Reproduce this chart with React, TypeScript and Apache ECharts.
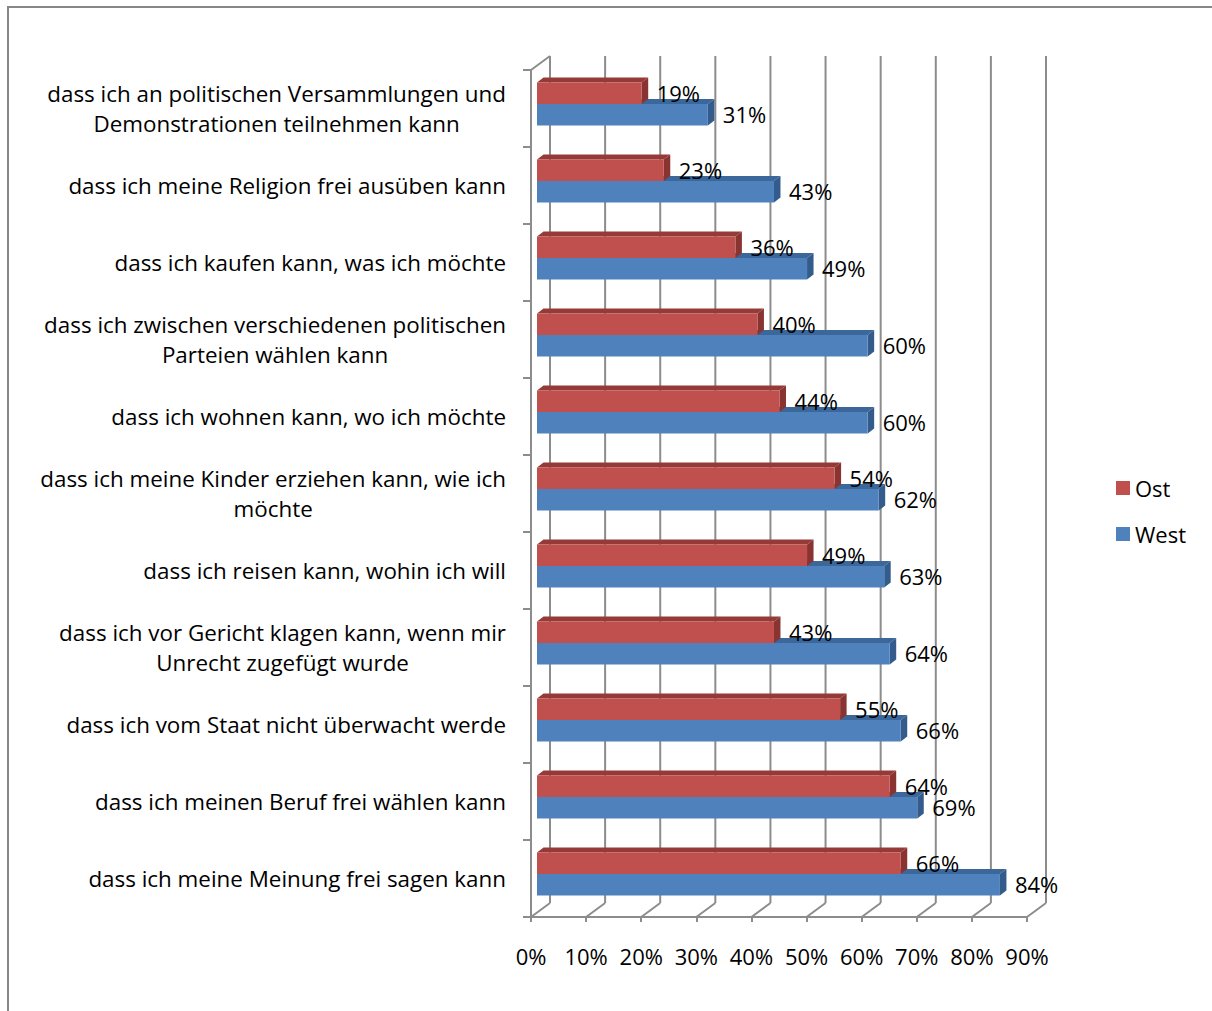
import React, { useEffect, useRef } from "react";
import * as echarts from "echarts";

const categories: string[] = [
  "dass ich an politischen Versammlungen und\nDemonstrationen teilnehmen kann",
  "dass ich meine Religion frei ausüben kann",
  "dass ich kaufen kann, was ich möchte",
  "dass ich zwischen verschiedenen politischen\nParteien wählen kann",
  "dass ich wohnen kann, wo ich möchte",
  "dass ich meine Kinder erziehen kann, wie ich\nmöchte",
  "dass ich reisen kann, wohin ich will",
  "dass ich vor Gericht klagen kann, wenn mir\nUnrecht zugefügt wurde",
  "dass ich vom Staat nicht überwacht werde",
  "dass ich meinen Beruf frei wählen kann",
  "dass ich meine Meinung frei sagen kann",
];

const ostValues: number[] = [19, 23, 36, 40, 44, 54, 49, 43, 55, 64, 66];
const westValues: number[] = [31, 43, 49, 60, 60, 62, 63, 64, 66, 69, 84];
const xTicks: number[] = [0, 10, 20, 30, 40, 50, 60, 70, 80, 90];

const FONT = "'Open Sans', sans-serif";
const GRID_COLOR = "#8c8c8c";
// 3D projection offsets (pixels)
const BACK_DX = 19;
const BACK_DY = -14;
const PLANE_DX = 6;
const PLANE_DY = -4.5;
const DEPTH_DX = 6.5;
const DEPTH_DY = -5;

const OST = { front: "#C0504D", top: "#953A37", side: "#8A3431" };
const WEST = { front: "#4F81BD", top: "#3B679B", side: "#335C8C" };

function barRenderer(isOst: boolean, colors: { front: string; top: string; side: string }) {
  return (params: any, api: any) => {
    const v = api.value(0);
    const cat = api.value(1);
    const p0 = api.coord([0, cat]);
    const p1 = api.coord([v, cat]);
    const band = api.size([0, 1])[1];
    const h = band * 0.28;
    const cy = p0[1] + PLANE_DY;
    const top = isOst ? cy - h : cy;
    const bottom = top + h;
    const x0 = p0[0] + PLANE_DX;
    const x1 = p1[0] + PLANE_DX;
    return {
      type: "group",
      children: [
        {
          type: "polygon",
          shape: { points: [[x0, top], [x0 + DEPTH_DX, top + DEPTH_DY], [x1 + DEPTH_DX, top + DEPTH_DY], [x1, top]] },
          style: { fill: colors.top },
        },
        {
          type: "polygon",
          shape: { points: [[x1, top], [x1 + DEPTH_DX, top + DEPTH_DY], [x1 + DEPTH_DX, bottom + DEPTH_DY], [x1, bottom]] },
          style: { fill: colors.side },
        },
        {
          type: "rect",
          shape: { x: x0, y: top, width: x1 - x0, height: h },
          style: { fill: colors.front },
        },
        {
          type: "text",
          x: x1 + 15,
          y: (top + bottom) / 2 - 0.5,
          style: {
            text: v + "%",
            fill: "#000",
            font: `22px ${FONT}`,
            align: "left",
            verticalAlign: "middle",
            textAlign: "left",
            textVerticalAlign: "middle",
          },
        },
      ],
    };
  };
}

function wallRenderer(params: any, api: any) {
  const v = api.value(0);
  const cs = params.coordSys;
  const x = api.coord([v, 0])[0];
  const top = cs.y;
  const bottom = cs.y + cs.height;
  const style = { stroke: GRID_COLOR, lineWidth: 2 };
  const children: any[] = [
    { type: "line", shape: { x1: x + BACK_DX, y1: top + BACK_DY, x2: x + BACK_DX, y2: bottom + BACK_DY }, style },
    { type: "line", shape: { x1: x, y1: bottom, x2: x + BACK_DX, y2: bottom + BACK_DY }, style },
  ];
  if (v === xTicks[0]) {
    children.push({ type: "line", shape: { x1: x, y1: top, x2: x + BACK_DX, y2: top + BACK_DY }, style });
  }
  return { type: "group", children };
}

export default function App() {
  const ref = useRef<HTMLDivElement>(null);

  useEffect(() => {
    if (!ref.current) return;
    const chart = echarts.init(ref.current, undefined, { renderer: "svg" });
    const lineStyle = { color: GRID_COLOR, width: 2 };
    chart.setOption({
      animation: false,
      backgroundColor: "#fff",
      graphic: [
        {
          type: "rect",
          shape: { x: 8, y: 7, width: 1400, height: 1200 },
          style: { fill: "none", stroke: "#878787", lineWidth: 2 },
          silent: true,
        },
      ],
      legend: {
        data: ["Ost", "West"],
        orient: "vertical",
        left: 1116,
        top: 477,
        padding: 0,
        itemWidth: 14,
        itemHeight: 14,
        itemGap: 24,
        icon: "rect",
        textStyle: { fontSize: 22, fontFamily: FONT, color: "#000" },
      },
      grid: { left: 531, right: 185, top: 70, bottom: 94, containLabel: false },
      xAxis: {
        type: "value",
        min: 0,
        max: 90,
        interval: 10,
        axisLine: { show: true, lineStyle },
        axisTick: { show: true, length: 5, lineStyle },
        splitLine: { show: false },
        axisLabel: {
          formatter: "{value}%",
          margin: 28,
          fontSize: 22,
          fontFamily: FONT,
          color: "#000",
        },
      },
      yAxis: {
        type: "category",
        data: categories,
        inverse: true,
        axisLine: { show: true, lineStyle },
        axisTick: { show: true, length: 8, lineStyle },
        splitLine: { show: false },
        axisLabel: {
          margin: 25,
          fontSize: 22.4,
          fontFamily: FONT,
          color: "#000",
          lineHeight: 30,
          formatter: (val: string) =>
            val
              .split("\n")
              .map((l) => `{c|${l}}`)
              .join("\n"),
          rich: {
            c: { align: "center", fontSize: 22.4, fontFamily: FONT, color: "#000", lineHeight: 30 },
          },
        },
      },
      series: [
        {
          name: "walls",
          type: "custom",
          silent: true,
          z: 1,
          renderItem: wallRenderer,
          encode: { x: 0, y: 1 },
          data: xTicks.map((t) => [t, 0]),
        },
        {
          name: "West",
          type: "custom",
          z: 2,
          itemStyle: { color: WEST.front },
          renderItem: barRenderer(false, WEST),
          encode: { x: 0, y: 1 },
          data: westValues.map((v, i) => [v, i]),
        },
        {
          name: "Ost",
          type: "custom",
          z: 3,
          itemStyle: { color: OST.front },
          renderItem: barRenderer(true, OST),
          encode: { x: 0, y: 1 },
          data: ostValues.map((v, i) => [v, i]),
        },
      ],
    });
    return () => chart.dispose();
  }, []);

  return (
    <div
      ref={ref}
      style={{ position: "absolute", left: 0, top: 0, width: 1212, height: 1011, background: "#fff" }}
    />
  );
}
